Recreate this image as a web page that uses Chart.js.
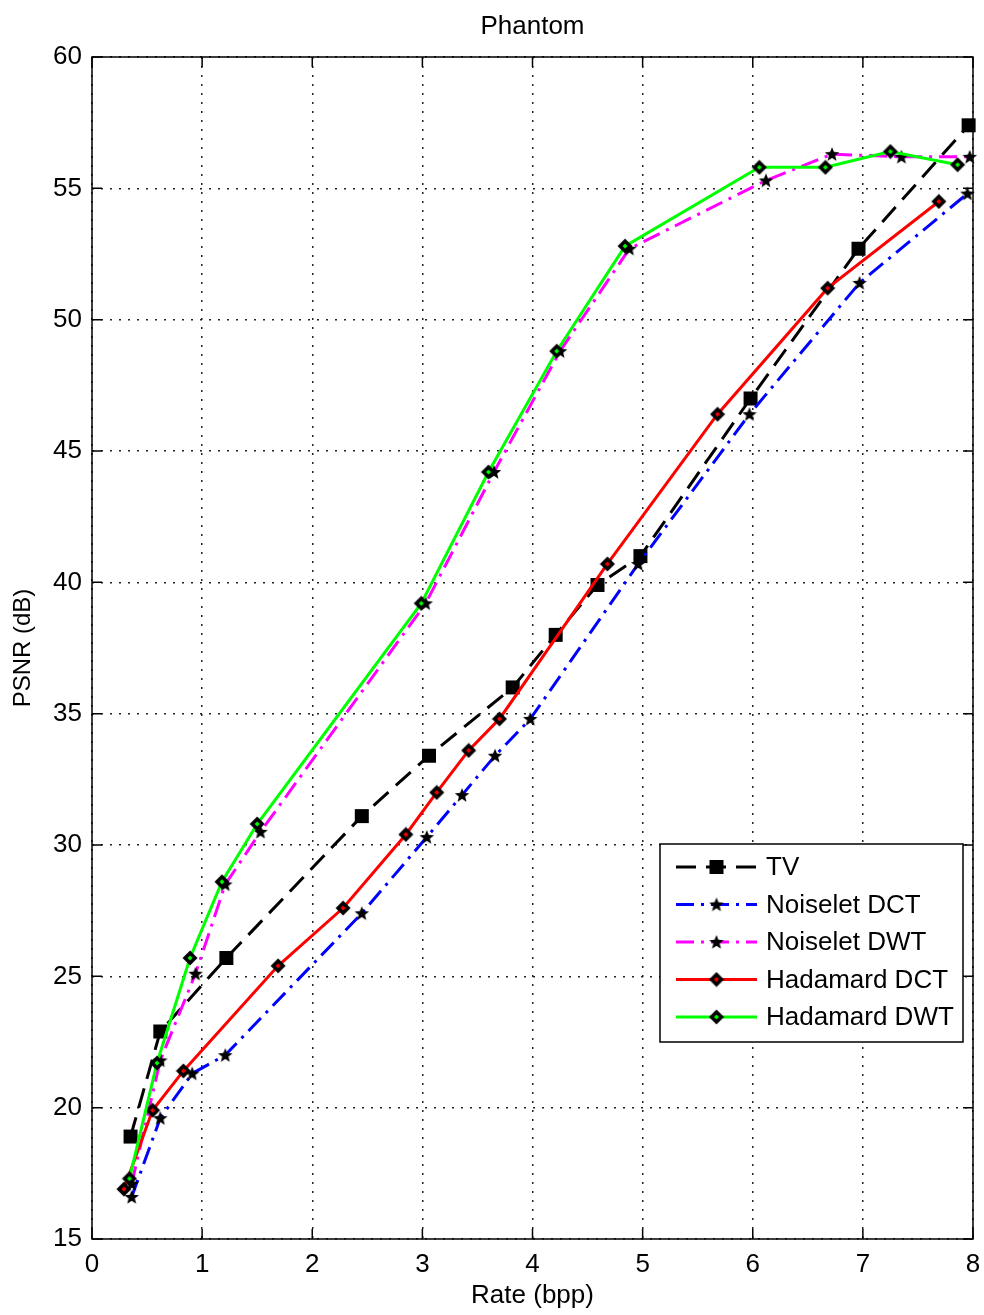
<!DOCTYPE html>
<html>
<head>
<meta charset="utf-8">
<script src="https://cdn.jsdelivr.net/npm/chart.js@4/dist/chart.umd.min.js"></script>
<style>
  html, body { margin: 0; padding: 0; background: #fff; }
  #wrap { width: 984px; height: 1315px; }
</style>
</head>
<body>
<div id="wrap"><canvas id="c" width="984" height="1315"></canvas></div>
<script>
// Axis ticks
const rateTicks = [0, 1, 2, 3, 4, 5, 6, 7, 8];
const psnrTicks = [15, 20, 25, 30, 35, 40, 45, 50, 55, 60];

// Series names
const seriesNames = ['TV', 'Noiselet DCT', 'Noiselet DWT', 'Hadamard DCT', 'Hadamard DWT'];
const chartTitle = 'Phantom';

// TV
const tvRate = [0.35, 0.62, 1.22, 2.45, 3.06, 3.82, 4.21, 4.59, 4.98, 5.98, 6.96, 7.96];
const tvPsnr = [18.9, 22.9, 25.7, 31.1, 33.4, 36.0, 38.0, 39.9, 41.0, 47.0, 52.7, 57.4];

// Noiselet DCT
const nDctRate = [0.36, 0.62, 0.91, 1.21, 2.45, 3.04, 3.36, 3.66, 3.98, 4.96, 5.97, 6.97, 7.95];
const nDctPsnr = [16.6, 19.6, 21.3, 22.0, 27.4, 30.3, 31.9, 33.4, 34.8, 40.7, 46.4, 51.4, 54.8];

// Noiselet DWT
const nDwtRate = [0.36, 0.62, 0.94, 1.21, 1.53, 3.03, 3.65, 4.25, 4.88, 6.12, 6.72, 7.35, 7.97];
const nDwtPsnr = [17.1, 21.8, 25.1, 28.5, 30.5, 39.2, 44.2, 48.8, 52.7, 55.3, 56.3, 56.2, 56.2];

// Hadamard DCT
const hDctRate = [0.29, 0.55, 0.83, 1.69, 2.28, 2.85, 3.13, 3.42, 3.70, 4.68, 5.68, 6.68, 7.69];
const hDctPsnr = [16.9, 19.9, 21.4, 25.4, 27.6, 30.4, 32.0, 33.6, 34.8, 40.7, 46.4, 51.2, 54.5];

// Hadamard DWT
const hDwtRate = [0.34, 0.59, 0.89, 1.18, 1.50, 2.99, 3.60, 4.22, 4.84, 6.06, 6.66, 7.25, 7.86];
const hDwtPsnr = [17.3, 21.7, 25.7, 28.6, 30.8, 39.2, 44.2, 48.8, 52.8, 55.8, 55.8, 56.4, 55.9];

const FONT = "'Liberation Sans', Arial, sans-serif";

function pairs(xs, ys) { return xs.map((x, i) => ({ x: x, y: ys[i] })); }

// Marker images
function squareMarker() {
  const c = document.createElement('canvas');
  c.width = 16; c.height = 16;
  const g = c.getContext('2d');
  g.fillStyle = '#000';
  g.fillRect(1, 1, 14, 14);
  return c;
}
function starMarker() {
  const c = document.createElement('canvas');
  c.width = 16; c.height = 16;
  const g = c.getContext('2d');
  g.fillStyle = '#000';
  g.beginPath();
  const cx = 8, cy = 8.5, R = 7.6, r = 3.3;
  for (let i = 0; i < 10; i++) {
    const a = -Math.PI / 2 + i * Math.PI / 5;
    const rad = i % 2 === 0 ? R : r;
    const px = cx + rad * Math.cos(a), py = cy + rad * Math.sin(a);
    if (i === 0) g.moveTo(px, py); else g.lineTo(px, py);
  }
  g.closePath();
  g.fill();
  return c;
}
function diamondMarker(center) {
  const c = document.createElement('canvas');
  c.width = 16; c.height = 16;
  const g = c.getContext('2d');
  g.fillStyle = '#000';
  g.beginPath();
  g.moveTo(8, 0.5); g.lineTo(15.5, 8); g.lineTo(8, 15.5); g.lineTo(0.5, 8);
  g.closePath(); g.fill();
  g.fillStyle = center;
  g.beginPath();
  g.moveTo(8, 5.5); g.lineTo(10.5, 8); g.lineTo(8, 10.5); g.lineTo(5.5, 8);
  g.closePath(); g.fill();
  return c;
}

const mkSquare = squareMarker();
const mkStar = starMarker();
const mkDiaRed = diamondMarker('#ff0000');
const mkDiaGreen = diamondMarker('#00ff00');

function series(label, xs, ys, color, dash, marker, order) {
  return {
    label: label,
    data: pairs(xs, ys),
    borderColor: color,
    backgroundColor: color,
    borderWidth: 3,
    borderDash: dash,
    pointStyle: marker,
    pointRadius: 8,
    pointHoverRadius: 8,
    tension: 0,
    fill: false,
    clip: false,
    order: order
  };
}

const datasets = [
  series(seriesNames[0], tvRate, tvPsnr, '#000000', [20, 10], mkSquare, 5),
  series(seriesNames[1], nDctRate, nDctPsnr, '#0000ff', [18, 7, 3, 7], mkStar, 4),
  series(seriesNames[2], nDwtRate, nDwtPsnr, '#ff00ff', [18, 7, 3, 7], mkStar, 3),
  series(seriesNames[3], hDctRate, hDctPsnr, '#ff0000', [], mkDiaRed, 2),
  series(seriesNames[4], hDwtRate, hDwtPsnr, '#00ff00', [], mkDiaGreen, 1)
];

// Box frame with inward ticks on all four sides, plus the title over the plot
const framePlugin = {
  id: 'frame',
  afterDatasetsDraw(chart) {
    const { ctx, chartArea: a, scales: { x, y } } = chart;
    const tl = 10;
    ctx.save();
    ctx.strokeStyle = '#000';
    ctx.lineWidth = 1.5;
    ctx.setLineDash([]);
    ctx.strokeRect(a.left, a.top, a.right - a.left, a.bottom - a.top);
    ctx.beginPath();
    rateTicks.forEach(v => {
      const px = x.getPixelForValue(v);
      ctx.moveTo(px, a.bottom); ctx.lineTo(px, a.bottom - tl);
      ctx.moveTo(px, a.top); ctx.lineTo(px, a.top + tl);
    });
    psnrTicks.forEach(v => {
      const py = y.getPixelForValue(v);
      ctx.moveTo(a.left, py); ctx.lineTo(a.left + tl, py);
      ctx.moveTo(a.right, py); ctx.lineTo(a.right - tl, py);
    });
    ctx.stroke();
    ctx.fillStyle = '#000';
    ctx.font = '26px ' + FONT;
    ctx.textAlign = 'center';
    ctx.textBaseline = 'middle';
    ctx.fillText(chartTitle, (a.left + a.right) / 2, a.top - 30);
    ctx.restore();
  }
};

// Legend box inside the plot, lower right
const legendBoxPlugin = {
  id: 'legendBox',
  afterDraw(chart) {
    const { ctx, chartArea: a } = chart;
    const w = 303, h = 198;
    const left = a.right - 10 - w;
    const top = a.top + 787;
    ctx.save();
    ctx.fillStyle = '#fff';
    ctx.fillRect(left, top, w, h);
    ctx.strokeStyle = '#000';
    ctx.lineWidth = 1.5;
    ctx.setLineDash([]);
    ctx.strokeRect(left, top, w, h);
    ctx.font = '26px ' + FONT;
    ctx.textBaseline = 'middle';
    ctx.textAlign = 'left';
    chart.data.datasets.forEach((ds, i) => {
      const rowY = top + 23 + i * 37.5;
      const x0 = left + 16, x1 = left + 97;
      ctx.strokeStyle = ds.borderColor;
      ctx.lineWidth = ds.borderWidth;
      ctx.setLineDash(ds.borderDash || []);
      ctx.beginPath();
      ctx.moveTo(x0, rowY); ctx.lineTo(x1, rowY);
      ctx.stroke();
      const img = ds.pointStyle;
      ctx.drawImage(img, (x0 + x1) / 2 - img.width / 2, rowY - img.height / 2);
      ctx.fillStyle = '#000';
      ctx.fillText(ds.label, left + 106, rowY + 1);
    });
    ctx.restore();
  }
};

new Chart(document.getElementById('c'), {
  type: 'line',
  data: { datasets: datasets },
  plugins: [framePlugin, legendBoxPlugin],
  options: {
    responsive: false,
    animation: false,
    layout: { padding: { left: 0, right: 10, top: 57, bottom: 0 } },
    plugins: {
      legend: { display: false },
      tooltip: { enabled: false },
      title: { display: false }
    },
    scales: {
      x: {
        type: 'linear',
        min: rateTicks[0],
        max: rateTicks[rateTicks.length - 1],
        afterBuildTicks: s => { s.ticks = rateTicks.map(v => ({ value: v })); },
        afterFit: s => { s.height = 76; s.paddingLeft = 0; s.paddingRight = 0; },
        grid: { color: '#222', lineWidth: 1.5, drawTicks: false },
        border: { display: false, dash: [2, 7] },
        ticks: { color: '#000', padding: 10, maxRotation: 0, font: { family: FONT, size: 26 } },
        title: {
          display: true, text: 'Rate (bpp)', color: '#000',
          font: { family: FONT, size: 26, lineHeight: 1.2 },
          padding: { top: 0, bottom: 4 }
        }
      },
      y: {
        type: 'linear',
        min: psnrTicks[0],
        max: psnrTicks[psnrTicks.length - 1],
        afterBuildTicks: s => { s.ticks = psnrTicks.map(v => ({ value: v })); },
        afterFit: s => { s.width = 92; s.paddingTop = 0; s.paddingBottom = 0; },
        grid: { color: '#222', lineWidth: 1.5, drawTicks: false },
        border: { display: false, dash: [2, 7] },
        ticks: { color: '#000', padding: 10, font: { family: FONT, size: 26 } },
        title: {
          display: true, text: 'PSNR (dB)', color: '#000',
          font: { family: FONT, size: 24, lineHeight: 1.2 },
          padding: { top: 9, bottom: 0 }
        }
      }
    }
  }
});
</script>
</body>
</html>
